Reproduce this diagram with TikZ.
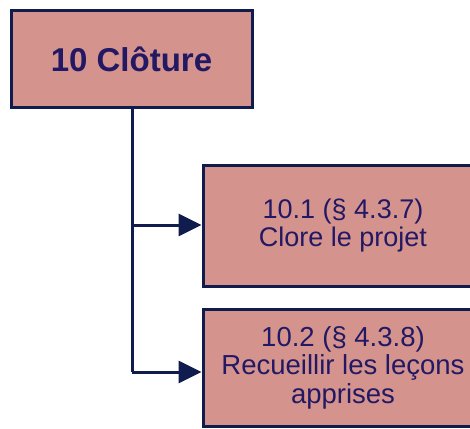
\documentclass[tikz,border=0pt]{standalone}
\usepackage{fontspec}
\setmainfont{Liberation Sans}
\usetikzlibrary{arrows.meta}
\definecolor{boxfill}{HTML}{D4938D}
\definecolor{boxline}{HTML}{0F1C4D}
\definecolor{boxtext}{HTML}{221863}
\tikzset{
  wbox/.style={draw=boxline, line width=3pt, fill=boxfill, text=boxtext, align=center, inner sep=0pt},
  conn/.style={draw=boxline, line width=3pt},
  arr/.style={conn, -{Triangle[length=23pt,width=22pt]}},
}
\begin{document}
\begin{tikzpicture}[x=1pt,y=-1pt]
\useasboundingbox (0,0) rectangle (470,428);
\clip (0,0) rectangle (470,428);
\node[wbox, minimum width=241pt, minimum height=96pt, font=\fontsize{33}{36}\selectfont\bfseries] (top) at (131.5,59) {10 Clôture};
\node[wbox, minimum width=280pt, minimum height=121pt, font=\fontsize{27}{27.5}\selectfont] (b1) at (343,225.5) {10.1 (§ 4.3.7)\\Clore le projet};
\node[wbox, minimum width=280pt, minimum height=117pt, font=\fontsize{27.5}{28.5}\selectfont] (b2) at (343,367.5) {10.2 (§ 4.3.8)\\Recueillir les leçons\\apprises};
\coordinate (j1) at (132,225);
\coordinate (j2) at (132,372);
\draw[conn] (top.south -| j1) -- (j2);
\draw[arr] (j1) -- (j1 -| b1.west);
\draw[arr] (j2) -- (j2 -| b2.west);
\end{tikzpicture}
\end{document}
